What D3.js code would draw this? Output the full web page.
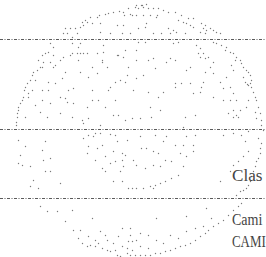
<!DOCTYPE html>
<html>
<head>
<meta charset="utf-8">
<script src="https://cdn.jsdelivr.net/npm/d3@7"></script>
<style>
html, body { margin: 0; padding: 0; background: #fff; overflow: hidden; }
svg { display: block; }
.band { stroke: #5a5a5a; stroke-width: 1; stroke-dasharray: 3,1.5,1,1.5; }
.dot { fill: #7a7a7a; }
.label { font-family: "Liberation Serif", serif; font-size: 16px; fill: #444; }
</style>
</head>
<body>
<svg width="266" height="257"></svg>
<script>
// stippled globe, points (plate units)
var dotPoints = [
[128,8],[130,14],[124,15],[119,11],[113,12],[108,13],[105,14],[99,15],[97,17],[90,17],[87,22],[82,22],[92,23],[100,23],[83,25],[80,27],[75,28],[70,28],[77,33],[67,33],[72,37],[117,25],[123,25],[100,32],[110,33],[122,33],[130,33],
[136,5],[141,5],[146,4],[143,7],[138,8],[148,8],[153,8],[158,8],[163,10],[168,12],[175,12],[181,15],[188,18],[193,18],[178,20],[183,22],[186,23],[190,25],[193,27],[201,23],[205,25],[203,28],[206,30],[210,28],[213,30],[216,32],[220,33],[205,33],[200,32],[136,15],[143,15],[150,15],[156,17],[146,23],[145,27],[138,28],[153,33],[161,33],[170,33],[176,32],[185,33],[168,28],[173,30],
[135,7],[142,5],[123,12],[85,20],[65,28],[63,33],[132,15],[157,15],
[80,43],[72,43],[50,43],[53,47],[78,47],[103,45],[48,52],[72,53],[80,53],[87,53],[45,53],[42,55],[53,55],[38,60],[43,62],[50,62],[78,60],[102,60],[117,55],[123,57],[125,50],[40,67],[37,70],[33,72],[32,75],[30,80],[27,83],[25,87],[24,90],[35,80],[32,90],[28,93],[23,97],[22,100],[20,103],[18,107],[18,110],[17,113],[17,117],[16,122],[16,125],[25,117],[28,97],[42,67],[53,67],[65,72],[62,78],[48,82],[55,83],[48,90],[42,90],[42,100],[35,105],[40,112],[47,117],[50,103],[60,113],[60,97],[68,90],[73,88],[65,98],[67,102],[73,103],[72,117],[82,120],[83,123],[88,118],[87,107],[92,100],[98,100],[92,90],[108,90],[105,107],[100,125],[113,115],[118,115],[125,120],[115,100],[120,80],[115,82],[125,82],[110,87],[80,72],[88,77],[97,73],[92,67],[102,62],[107,67],[127,75],[118,55],[103,52],[97,53],[77,53],[83,53],[70,55],[63,57],[60,60],[55,65],[132,118],[128,67],[133,90],
[138,42],[145,42],[173,43],[178,42],[213,42],[216,43],[221,45],[226,47],[196,45],[200,48],[198,53],[203,53],[200,57],[205,58],[208,57],[225,50],[230,52],[233,53],[236,57],[240,60],[241,63],[243,67],[246,70],[248,72],[250,75],[251,80],[251,87],[253,92],[255,97],[256,100],[258,107],[260,113],[261,120],[261,125],[256,118],[255,112],[246,107],[248,100],[243,77],[245,82],[248,85],[250,83],[247,84],[235,60],[231,65],[233,70],[226,77],[220,82],[223,88],[230,87],[233,93],[236,100],[230,100],[233,110],[236,115],[240,110],[228,113],[233,117],[238,117],[213,97],[213,73],[213,62],[210,67],[205,72],[203,82],[201,87],[200,92],[193,93],[190,83],[186,70],[190,67],[181,83],[175,83],[175,60],[170,58],[166,62],[153,58],[148,60],[155,68],[143,75],[136,78],[148,92],[163,92],[175,87],[158,97],[150,107],[140,118],[151,117],[160,110],[185,117],[195,115],[183,127],[136,50],[136,60],[223,100],
[18,140],[25,146],[20,155],[18,163],[22,165],[30,166],[42,150],[45,141],[43,160],[50,158],[45,171],[50,171],[33,180],[30,186],[38,188],[60,183],[83,138],[88,135],[95,133],[100,133],[110,134],[115,135],[93,136],[117,141],[127,140],[88,146],[97,148],[102,145],[87,153],[105,156],[113,151],[122,153],[125,155],[95,160],[110,163],[115,161],[122,160],[123,166],[102,168],[105,171],[120,171],[113,181],[122,181],[128,188],[132,188],
[140,136],[155,135],[166,136],[186,136],[195,135],[223,135],[233,133],[241,135],[248,131],[263,130],[258,138],[261,143],[260,148],[260,153],[258,158],[256,161],[255,166],[253,171],[251,176],[250,181],[248,185],[246,188],[243,190],[240,191],[141,148],[146,148],[153,151],[158,153],[163,141],[175,145],[183,145],[193,145],[180,153],[186,156],[193,151],[165,160],[133,160],[136,165],[145,168],[153,165],[160,166],[171,161],[183,166],[178,175],[171,178],[165,181],[160,183],[155,185],[150,186],[143,188],[136,188],[153,188],[220,181],[230,171],[233,165],[238,161],[243,156],[248,151],[245,141],[236,195],
[40,206],[47,211],[57,211],[72,210],[92,218],[65,221],[73,230],[80,230],[78,238],[88,236],[82,243],[87,246],[90,245],[95,240],[100,231],[107,240],[98,243],[95,246],[102,248],[107,250],[110,251],[115,250],[117,255],[120,256],[127,248],[122,246],[118,236],[122,228],[130,228],[130,235],[128,241],[132,241],[132,250],[130,255],[113,243],[105,235],[127,253],
[241,203],[238,206],[233,210],[228,215],[223,220],[218,223],[213,226],[208,230],[205,233],[200,236],[195,240],[190,243],[185,245],[180,246],[175,248],[170,250],[165,251],[160,253],[155,253],[150,255],[145,255],[140,255],[135,255],[206,208],[186,216],[156,218],[140,233],[148,235],[156,240],[170,235],[178,238],[186,231],[195,228],[203,226],[211,218],[140,246],[148,248],[163,243],[136,240]
];

var bandLevels = [39, 129, 198];
var labelText = ["Clas", "Cami", "CAMI-"];
var labelLevel = [181, 225, 247];

var svg = d3.select("svg"),
    width = +svg.attr("width"),
    height = +svg.attr("height");

var x = d3.scaleLinear().domain([0, 266]).range([0, width]);
var y = d3.scaleLinear().domain([0, 257]).range([0, height]);

svg.selectAll(".dot")
  .data(dotPoints)
  .enter().append("circle")
  .attr("class", "dot")
  .attr("cx", function(d) { return x(d[0]) + 0.5; })
  .attr("cy", function(d) { return y(d[1]) + 0.5; })
  .attr("r", 0.7);

svg.selectAll(".band")
  .data(bandLevels)
  .enter().append("line")
  .attr("class", "band")
  .attr("x1", 0)
  .attr("x2", width)
  .attr("y1", function(d) { return Math.round(y(d)) + 0.5; })
  .attr("y2", function(d) { return Math.round(y(d)) + 0.5; });

// monospaced look: every character gets the same advance
svg.selectAll(".label")
  .data(labelText)
  .enter().append("text")
  .attr("class", "label")
  .attr("x", x(232))
  .attr("y", function(d, i) { return y(labelLevel[i]); })
  .attr("textLength", function(d) { return d.length * 7.6; })
  .attr("lengthAdjust", "spacingAndGlyphs")
  .text(function(d) { return d; });
</script>
</body>
</html>
